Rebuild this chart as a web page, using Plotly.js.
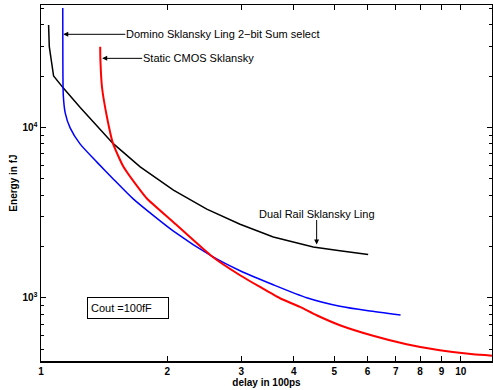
<!DOCTYPE html>
<html><head><meta charset="utf-8">
<script src="https://cdn.plot.ly/plotly-3.0.1.min.js"></script>
<style>html,body{margin:0;padding:0;background:#fff}#chart{width:493px;height:390px}</style>
</head><body><div id="chart"></div>
<script>
// Dual Rail Sklansky Ling (black)
const dualRailDelay  = [1.0425, 1.0465, 1.0715, 1.1318, 1.240, 1.359, 1.484, 1.723, 2.068, 2.483, 2.980, 3.576, 4.452, 5.154, 6.018];
const dualRailEnergy = [39850, 29720, 20010, 16940, 13070, 10180, 8056, 5873, 4285, 3315, 2707, 2280, 1992, 1892, 1798];
// Domino Sklansky Ling 2-bit Sum select (blue)
const dominoDelay  = [1.1268, 1.1274, 1.1300, 1.1423, 1.1740, 1.240, 1.359, 1.488, 1.661, 2.068, 2.552, 2.980, 3.576, 4.295, 5.154, 6.018, 7.187];
const dominoEnergy = [50100, 24830, 15470, 12130, 9906, 7980, 6259, 4973, 3795, 2462, 1757, 1444, 1195, 1003, 894, 841, 795];
// Static CMOS Sklansky (red)
const staticDelay  = [1.3837, 1.3853, 1.397, 1.4356, 1.4839, 1.5722, 1.7227, 1.787, 2.068, 2.552, 2.980, 3.325, 3.710, 4.140, 4.536, 5.154, 6.185, 7.427, 8.913, 10.70, 11.87];
const staticEnergy = [29720, 24830, 17310, 11540, 8056, 5873, 4285, 3832, 2781, 1757, 1359, 1160, 996, 886, 792, 692, 600, 535, 493, 467, 459];

const xTickVals = [1, 2, 3, 4, 5, 6, 7, 8, 9, 10];
const xTickText = ['1', '2', '3', '4', '5', '6', '7', '8', '9', '10'];
const yMajorVals = [1000, 10000];
const yMajorText = ['10<sup>3</sup>', '10<sup>4</sup>'];
const yMinorVals = [500, 600, 700, 800, 900, 2000, 3000, 4000, 5000, 6000, 7000, 8000, 9000, 20000, 30000, 40000, 50000];

const xRange = [0, Math.log10(11.87)];
const yRange = [Math.log10(427), Math.log10(52200)];
const FONT = 'Liberation Sans, Arial, Helvetica, sans-serif';
const LBL = {family: FONT, size: 11, color: '#000'};

const traces = [
  {x: dualRailDelay, y: dualRailEnergy, mode: 'lines', line: {color: '#000000', width: 1.5}, name: 'Dual Rail Sklansky Ling'},
  {x: dominoDelay, y: dominoEnergy, mode: 'lines', line: {color: '#0000ff', width: 1.5, shape: 'spline', smoothing: 0.6}, name: 'Domino Sklansky Ling 2-bit Sum select'},
  {x: staticDelay, y: staticEnergy, mode: 'lines', line: {color: '#ff0000', width: 2, shape: 'spline', smoothing: 0.5}, name: 'Static CMOS Sklansky'},
  {x: [null], y: [null], yaxis: 'y2', mode: 'lines', showlegend: false, hoverinfo: 'skip'}
];

const layout = {
  width: 493, height: 390,
  margin: {l: 41, r: 1, t: 5, b: 29, pad: 0},
  paper_bgcolor: '#ffffff', plot_bgcolor: '#ffffff',
  showlegend: false,
  font: {family: FONT, size: 10, color: '#000'},
  xaxis: {
    type: 'log', range: xRange, tickvals: xTickVals, ticktext: xTickText,
    ticks: 'inside', ticklen: 5, tickwidth: 1, tickcolor: '#000',
    showline: true, linecolor: '#000', linewidth: 1.5, mirror: 'ticks',
    showgrid: false, zeroline: false,
    tickfont: {family: FONT, size: 10, weight: 'bold'},
    title: {text: '<b>delay in 100ps</b>', font: {family: FONT, size: 10}, standoff: 2}
  },
  yaxis: {
    type: 'log', range: yRange, tickvals: yMajorVals, ticktext: yMajorText,
    ticks: 'inside', ticklen: 5, tickwidth: 1, tickcolor: '#000',
    showline: true, linecolor: '#000', linewidth: 1.5, mirror: 'ticks',
    showgrid: false, zeroline: false,
    tickfont: {family: FONT, size: 10, weight: 'bold'},
    title: {text: '<b>Energy in fJ</b>', font: {family: FONT, size: 10}, standoff: 3}
  },
  yaxis2: {
    type: 'log', range: yRange, overlaying: 'y', side: 'left',
    tickvals: yMinorVals, showticklabels: false,
    ticks: 'inside', ticklen: 3, tickwidth: 1, tickcolor: '#000',
    showline: false, mirror: 'ticks', showgrid: false, zeroline: false
  },
  annotations: [
    {xref: 'x', yref: 'y', x: Math.log10(1.130), y: 4.5458, text: 'Domino Sklansky Ling 2\u2212bit Sum select',
     showarrow: true, ax: 62, ay: 0, xanchor: 'left', yanchor: 'middle', borderpad: 0,
     arrowhead: 2, arrowsize: 1, arrowwidth: 1, arrowcolor: '#000', font: LBL},
    {xref: 'x', yref: 'y', x: 0.1458, y: 4.4049, text: 'Static CMOS Sklansky',
     showarrow: true, ax: 40, ay: 0, xanchor: 'left', yanchor: 'middle', borderpad: 0,
     arrowhead: 2, arrowsize: 1, arrowwidth: 1, arrowcolor: '#000', font: LBL},
    {xref: 'x', yref: 'y', x: 0.6567, y: 3.3134, text: 'Dual Rail Sklansky Ling',
     showarrow: true, ax: 0, ay: -31, xanchor: 'center', yanchor: 'middle', borderpad: 0,
     arrowhead: 2, arrowsize: 1, arrowwidth: 1, arrowcolor: '#000', font: LBL},
    {xref: 'x', yref: 'y', x: 0.2065, y: 2.9425, text: 'Cout =100fF', showarrow: false,
     xanchor: 'center', yanchor: 'middle', align: 'left', width: 74, height: 14,
     bordercolor: '#000', borderwidth: 1, borderpad: 3, bgcolor: '#fff', font: LBL}
  ]
};

Plotly.newPlot('chart', traces, layout, {staticPlot: true, displayModeBar: false});
</script>
</body></html>
